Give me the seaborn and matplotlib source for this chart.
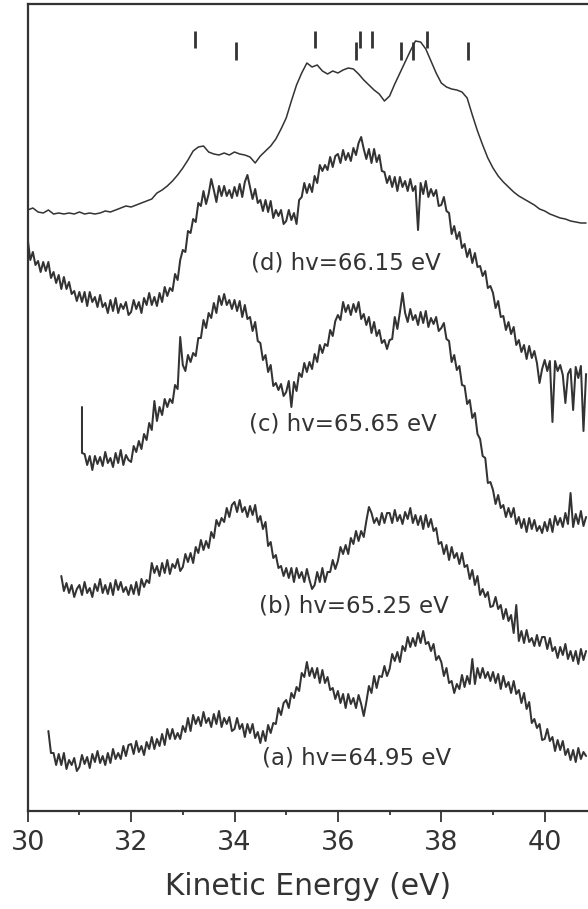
import numpy as np
import pandas as pd
import matplotlib
matplotlib.use("Agg")
import matplotlib.pyplot as plt
import seaborn as sns

# ---------------- data (intensity in arbitrary units) -------------
# smooth top spectrum, 0.1 eV steps from 30.0 eV
top_x0, top_step = 30.0, 0.1
top_y = [601, 603, 599, 598, 601, 597, 598, 597, 598, 597,
         599, 597, 598, 597, 598, 600, 599, 601, 603, 605,
         604, 606, 608, 610, 612, 618, 621, 625, 630, 636,
         643, 651, 660, 664, 665, 659, 657, 656, 658, 656,
         659, 657, 656, 654, 648, 655, 660, 665, 672, 682,
         693, 710, 726, 738, 748, 744, 746, 740, 737, 740,
         738, 741, 743, 742, 737, 731, 726, 721, 717, 710,
         715, 727, 738, 749, 760, 770, 769, 762, 750, 738,
         728, 724, 722, 721, 719, 713, 696, 680, 666, 653,
         643, 635, 629, 624, 619, 615, 612, 609, 606, 602,
         600, 597, 595, 593, 592, 590, 589, 588, 588]

# noisy spectra, 0.05 eV steps
step = 0.05
d_x0 = 30.0
d_y = [572, 551, 559, 546, 550, 539, 549, 540, 549, 533, 539, 528, 536, 522, 534, 522, 529, 517, 520, 510,
       519, 509, 519, 505, 519, 509, 514, 504, 516, 504, 508, 498, 511, 500, 513, 498, 507, 502, 509, 496,
       499, 511, 502, 509, 498, 513, 506, 518, 506, 514, 505, 518, 509, 524, 515, 523, 520, 537, 531, 551,
       561, 559, 580, 578, 592, 589, 608, 605, 620, 607, 617, 632, 621, 609, 625, 615, 625, 615, 621, 613,
       624, 615, 627, 614, 629, 636, 624, 612, 622, 608, 611, 600, 611, 599, 610, 593, 601, 595, 601, 587,
       590, 601, 591, 598, 587, 611, 614, 628, 618, 627, 619, 635, 628, 646, 640, 646, 641, 654, 644, 655,
       657, 648, 661, 651, 658, 650, 663, 656, 668, 674, 662, 652, 662, 648, 662, 649, 656, 640, 639, 628,
       635, 624, 634, 620, 634, 624, 630, 620, 632, 620, 625, 581, 628, 617, 630, 614, 622, 615, 621, 605,
       606, 614, 600, 598, 577, 585, 572, 579, 563, 567, 554, 562, 548, 558, 544, 545, 535, 540, 523, 525,
       518, 503, 510, 494, 495, 481, 489, 477, 484, 466, 471, 459, 466, 452, 465, 453, 460, 448, 428, 442,
       451, 440, 450, 389, 450, 440, 446, 436, 408, 437, 442, 401, 444, 433, 445, 380, 437]

c_x_start = [31.05, 31.05]
c_y_start = [404, 358]
c_x0 = 31.1
c_y = [357, 346, 355, 341, 355, 347, 354, 345, 359, 348, 353, 344, 358, 348, 361, 346, 356, 351,
       349, 365, 359, 370, 362, 377, 371, 388, 381, 410, 390, 404, 396, 412, 404, 412, 408, 426, 422, 474,
       446, 440, 456, 449, 458, 455, 473, 473, 491, 483, 498, 493, 508, 498, 515, 506, 517, 506, 511, 502,
       511, 500, 510, 494, 506, 492, 494, 480, 489, 470, 468, 451, 456, 439, 446, 425, 428, 421, 427, 415,
       419, 430, 404, 429, 420, 438, 434, 448, 439, 449, 442, 457, 449, 466, 458, 467, 465, 481, 475, 490,
       496, 491, 509, 499, 506, 496, 507, 499, 509, 492, 497, 486, 494, 478, 489, 475, 481, 468, 471, 462,
       471, 472, 494, 482, 499, 518, 498, 489, 502, 491, 496, 486, 499, 488, 500, 484, 493, 487, 494, 480,
       483, 488, 472, 470, 449, 456, 441, 445, 426, 425, 407, 411, 393, 398, 377, 372, 355, 353, 328, 329,
       321, 307, 316, 303, 306, 294, 303, 294, 303, 287, 294, 283, 292, 279, 293, 282, 291, 280, 285, 278,
       289, 280, 292, 279, 295, 286, 293, 284, 298, 287, 318, 284, 297, 287, 300, 285, 294]

b_x0 = 30.65
b_y = [235, 220, 228, 218, 226, 214, 222,
       226, 216, 229, 218, 223, 214, 227, 220, 232, 218, 226, 217, 228, 216, 231, 221, 229, 219, 224, 216,
       226, 217, 229, 216, 232, 224, 231, 228, 248, 238, 245, 235, 248, 238, 251, 237, 247, 243, 252, 240,
       244, 257, 249, 258, 248, 264, 258, 271, 261, 270, 263, 279, 273, 291, 285, 293, 289, 303, 294, 306,
       309, 299, 311, 299, 304, 294, 305, 296, 306, 289, 295, 282, 289, 265, 269, 253, 256, 243, 245, 235,
       243, 233, 243, 229, 243, 233, 239, 229, 242, 231, 222, 226, 239, 229, 243, 229, 239, 239, 251, 242,
       250, 264, 257, 266, 257, 273, 267, 280, 270, 280, 274, 290, 304, 298, 288, 293, 286, 298, 288, 298,
       298, 288, 301, 290, 296, 287, 299, 292, 303, 288, 296, 286, 295, 282, 296, 284, 292, 280, 283, 267,
       269, 257, 266, 251, 264, 253, 258, 247, 258, 244, 246, 232, 241, 226, 235, 216, 222, 214, 219, 204,
       205, 214, 202, 206, 192, 202, 190, 196, 178, 206, 170, 180, 168, 181, 169, 173, 165, 176, 165, 174,
       174, 162, 173, 160, 164, 153, 164, 156, 167, 152, 160, 150, 160, 147, 162, 151, 160]

a_x0 = 30.4
a_y = [80, 58, 58, 46, 57, 46, 58, 42, 51, 46, 53, 40,
       44, 56, 47, 54, 43, 57, 49, 60, 48, 55, 46, 58, 48, 62, 52, 58, 52, 65, 55, 66,
       67, 57, 70, 59, 65, 56, 69, 62, 74, 62, 72, 65, 77, 66, 82, 72, 82, 72, 78, 72,
       85, 79, 93, 80, 96, 87, 94, 85, 99, 88, 93, 84, 97, 87, 100, 84, 93, 87, 94, 80,
       82, 93, 82, 87, 74, 87, 78, 87, 73, 79, 68, 80, 70, 86, 78, 88, 87, 103, 96, 108,
       111, 103, 118, 113, 124, 120, 138, 134, 149, 135, 143, 133, 143, 128, 141, 128, 134, 121, 123, 112,
       120, 108, 117, 103, 117, 107, 113, 103, 116, 107, 95, 109, 125, 118, 135, 123, 135, 134, 145, 135,
       142, 157, 150, 159, 149, 165, 160, 174, 164, 173, 165, 178, 168, 180, 167, 169, 160, 167, 151, 155,
       149, 135, 143, 128, 130, 118, 127, 122, 136, 124, 135, 127, 152, 127, 143, 133, 143, 133, 139, 130,
       139, 128, 137, 122, 135, 124, 129, 118, 130, 117, 121, 108, 118, 102, 109, 88, 92, 83, 87, 71,
       72, 82, 70, 74, 60, 71, 61, 70, 56, 62, 51, 61, 49, 63, 52, 59, 55]

marks_upper = [33.23, 35.56, 36.43, 36.65, 37.72]
marks_lower = [34.02, 36.35, 37.22, 37.45, 38.51]

labels = ["(d) hv=66.15 eV", "(c) hv=65.65 eV", "(b) hv=65.25 eV", "(a) hv=64.95 eV"]
label_x = [36.16, 36.10, 36.31, 36.36]
label_y = [548, 387, 205, 53]

xticks = [30, 32, 34, 36, 38, 40]
xlabel = "Kinetic Energy (eV)"


def grid(x0, dx, n):
    return list(np.round(x0 + dx * np.arange(n), 3))


frames = [
    pd.DataFrame({"E": grid(top_x0, top_step, len(top_y)), "I": top_y, "curve": "top"}),
    pd.DataFrame({"E": grid(d_x0, step, len(d_y)), "I": d_y, "curve": "d"}),
    pd.DataFrame({"E": c_x_start + grid(c_x0, step, len(c_y)), "I": c_y_start + c_y, "curve": "c"}),
    pd.DataFrame({"E": grid(b_x0, step, len(b_y)), "I": b_y, "curve": "b"}),
    pd.DataFrame({"E": grid(a_x0, step, len(a_y)), "I": a_y, "curve": "a"}),
]

# ---------------- style ----------------
sns.set_style("ticks")
plt.rcParams["font.family"] = ["DejaVu Sans"]
ink = "#333333"

W, H = 588, 909
fig = plt.figure(figsize=(W / 100, H / 100), dpi=100)
left_px, bottom_px, top_px = 27.7, 811, 4
ax = fig.add_axes([left_px / W, 1 - bottom_px / H, 1 - left_px / W, (bottom_px - top_px) / H])

for df in frames:
    name = df["curve"].iloc[0]
    lw = 1.1 if name == "top" else 1.45
    sns.lineplot(data=df, x="E", y="I", ax=ax, estimator=None, sort=False,
                 color=ink, lw=lw, legend=False)

ax.vlines(marks_upper, 763, 780, color=ink, lw=2.0)
ax.vlines(marks_lower, 751, 769, color=ink, lw=2.0)

for t, x, y in zip(labels, label_x, label_y):
    ax.text(x, y, t, ha="center", va="center", fontsize=16.5, color=ink)

ax.set_xlim(30, 30 + (W - left_px) / 51.7)
ax.set_ylim(0, bottom_px - top_px)
ax.set_xticks(xticks)
ax.set_xticklabels([str(t) for t in xticks])
ax.set_xticks(np.arange(31, 41, 2), minor=True)
ax.set_yticks([])
ax.set_ylabel("")
ax.set_xlabel(xlabel, fontsize=21.4, color=ink, labelpad=11)
ax.tick_params(axis="x", which="major", direction="out", length=8, width=1.3,
               colors=ink, labelsize=19.5, pad=6)
ax.tick_params(axis="x", which="minor", direction="out", length=3.2, width=1.3, colors=ink)
for s in ["left", "bottom", "top"]:
    ax.spines[s].set_color(ink)
    ax.spines[s].set_linewidth(1.6)
ax.spines["right"].set_visible(False)
ax.set_facecolor("white")
fig.patch.set_facecolor("white")

fig.savefig("out.png", dpi=100)
